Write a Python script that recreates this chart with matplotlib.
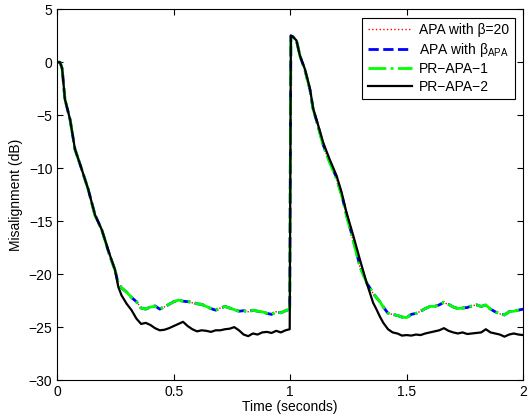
import matplotlib
matplotlib.use("Agg")
import matplotlib.pyplot as plt

plt.rcParams['font.family'] = ['Liberation Sans', 'DejaVu Sans']
plt.rcParams['mathtext.fontset'] = 'custom'
plt.rcParams['mathtext.rm'] = 'Liberation Sans'
plt.rcParams['mathtext.it'] = 'Liberation Sans:italic'

# sample times (seconds)
t_decay1 = [0.0, 0.012, 0.021, 0.033, 0.055, 0.076, 0.105, 0.133, 0.162, 0.191,
            0.226, 0.248, 0.262, 0.276, 0.298, 0.319, 0.34, 0.36, 0.38]
t_flat1 = [0.40, 0.42, 0.44, 0.46, 0.48, 0.50, 0.52, 0.54, 0.56, 0.58,
           0.60, 0.62, 0.64, 0.66, 0.68, 0.70, 0.72, 0.74, 0.76, 0.78,
           0.80, 0.82, 0.84, 0.86, 0.88, 0.90, 0.92, 0.94, 0.96, 0.98, 0.998]
t_decay2 = [1.003, 1.012, 1.027, 1.042, 1.063, 1.085, 1.099, 1.113, 1.142, 1.17,
            1.199, 1.221, 1.242, 1.27, 1.299, 1.328, 1.356, 1.37, 1.385, 1.40]
t_flat2 = [1.42, 1.44, 1.46, 1.48, 1.50, 1.52, 1.54, 1.56, 1.58, 1.60,
           1.62, 1.64, 1.66, 1.68, 1.70, 1.72, 1.74, 1.76, 1.78, 1.80,
           1.82, 1.84, 1.86, 1.88, 1.90, 1.92, 1.94, 1.96, 1.98, 2.00]
t = t_decay1 + t_flat1 + t_decay2 + t_flat2

# misalignment (dB)
pr_apa1 = [0.0, 0.0, -0.6, -3.5, -5.4, -8.2, -10.1, -12.0, -14.5, -15.8,
           -18.3, -19.6, -20.9, -21.3, -21.7, -22.2, -22.6, -23.2, -23.3,
           -23.1, -23.05, -23.3, -23.1, -22.85, -22.6, -22.45, -22.55, -22.6, -22.65,
           -22.8, -22.85, -23.05, -23.25, -23.4, -23.2, -23.05, -23.2, -23.35, -23.5,
           -23.45, -23.55, -23.4, -23.5, -23.55, -23.7, -23.8, -23.55, -23.65, -23.45, -23.3,
           2.5, 2.4, 2.05, 0.6, -0.7, -2.6, -4.5, -5.5, -7.9, -9.5,
           -11.0, -12.6, -14.5, -16.8, -19.3, -20.8, -21.8, -22.2, -22.6, -23.1,
           -23.7, -23.8, -23.9, -24.05, -24.1, -23.8, -23.7, -23.5, -23.25, -23.05,
           -23.05, -22.9, -22.65, -22.85, -23.1, -23.25, -23.2, -23.15, -23.0, -22.9,
           -23.05, -22.9, -23.3, -23.55, -23.75, -23.85, -23.55, -23.5, -23.4, -23.3]

apa_beta20 = [0.0, 0.0, -0.6, -3.5, -5.4, -8.2, -10.1, -12.0, -14.5, -15.8,
              -18.3, -19.6, -20.9, -21.3, -21.75, -22.2, -22.6, -23.2, -23.3,
              -23.15, -23.05, -23.3, -23.1, -22.85, -22.6, -22.5, -22.55, -22.6, -22.7,
              -22.8, -22.85, -23.05, -23.25, -23.4, -23.2, -23.05, -23.2, -23.35, -23.5,
              -23.45, -23.55, -23.4, -23.5, -23.55, -23.7, -23.8, -23.55, -23.65, -23.45, -23.3,
              2.5, 2.4, 2.05, 0.6, -0.7, -2.6, -4.5, -5.5, -7.9, -9.5,
              -11.0, -12.6, -14.5, -16.8, -19.3, -20.8, -21.8, -22.2, -22.6, -23.1,
              -23.7, -23.8, -23.9, -24.05, -24.1, -23.8, -23.7, -23.5, -23.25, -23.05,
              -23.05, -22.9, -22.7, -22.85, -23.1, -23.25, -23.2, -23.15, -23.0, -22.9,
              -23.05, -22.9, -23.3, -23.55, -23.75, -23.85, -23.55, -23.5, -23.4, -23.3]

apa_beta_apa = [0.0, 0.0, -0.6, -3.5, -5.4, -8.2, -10.1, -12.0, -14.4, -15.8,
                -18.3, -19.6, -20.9, -21.3, -21.7, -22.2, -22.6, -23.2, -23.3,
                -23.1, -23.0, -23.3, -23.1, -22.85, -22.6, -22.45, -22.55, -22.6, -22.65,
                -22.8, -22.85, -23.05, -23.25, -23.4, -23.2, -23.05, -23.2, -23.35, -23.5,
                -23.45, -23.55, -23.4, -23.5, -23.55, -23.7, -23.8, -23.55, -23.65, -23.45, -23.3,
                2.5, 2.4, 2.05, 0.6, -0.7, -2.6, -4.5, -5.5, -7.8, -9.4,
                -10.9, -12.5, -14.4, -16.7, -19.2, -20.8, -21.8, -22.2, -22.6, -23.1,
                -23.7, -23.8, -23.9, -24.05, -24.1, -23.8, -23.7, -23.5, -23.25, -23.05,
                -23.05, -22.9, -22.65, -22.85, -23.1, -23.25, -23.2, -23.15, -23.0, -22.9,
                -23.05, -22.9, -23.3, -23.55, -23.75, -23.85, -23.55, -23.5, -23.4, -23.3]

pr_apa2 = [0.0, 0.0, -0.6, -3.5, -5.4, -8.2, -10.1, -12.0, -14.4, -15.8,
           -18.2, -19.6, -21.2, -22.0, -22.8, -23.4, -24.2, -24.7, -24.6,
           -24.8, -25.1, -25.3, -25.25, -25.1, -24.9, -24.7, -24.5, -24.9, -25.2,
           -25.4, -25.3, -25.35, -25.45, -25.3, -25.3, -25.2, -25.15, -25.0, -25.3,
           -25.7, -25.85, -25.6, -25.7, -25.5, -25.45, -25.55, -25.35, -25.5, -25.3, -25.2,
           2.5, 2.4, 2.05, 0.6, -0.63, -2.5, -4.4, -5.4, -7.6, -9.2,
           -10.7, -12.3, -14.2, -16.3, -18.6, -20.8, -22.7, -23.3, -24.0, -24.6,
           -25.2, -25.5, -25.6, -25.8, -25.75, -25.8, -25.7, -25.75, -25.6, -25.5,
           -25.4, -25.3, -25.1, -25.35, -25.5, -25.6, -25.5, -25.65, -25.6, -25.55,
           -25.5, -25.2, -25.5, -25.6, -25.7, -25.9, -25.7, -25.6, -25.7, -25.75]

x_ticks = [0, 0.5, 1, 1.5, 2]
x_labels = ["0", "0.5", "1", "1.5", "2"]
y_ticks = [-30, -25, -20, -15, -10, -5, 0, 5]

fig = plt.figure(figsize=(5.3, 4.2), dpi=100)
ax = fig.add_axes([0.108, 0.095, 0.879, 0.883])

ax.plot(t, apa_beta20, color="r", linestyle=":", linewidth=1.0, label=r"APA with β=20")
ax.plot(t, apa_beta_apa, color="b", linestyle="--", linewidth=2.0, label=r"APA with β$_{\mathrm{APA}}$")
ax.plot(t, pr_apa1, color=(0, 1, 0), linestyle="-.", linewidth=2.0, label="PR\u2212APA\u22121")
ax.plot(t, pr_apa2, color="k", linestyle="-", linewidth=1.6, label="PR\u2212APA\u22122")

ax.set_xlim(0, 2)
ax.set_ylim(-30, 5)
ax.set_xticks(x_ticks)
ax.set_xticklabels(x_labels)
ax.set_yticks(y_ticks)
ax.tick_params(direction="in", top=True, right=True, labelsize=10, length=4, width=0.8)
for s in ax.spines.values():
    s.set_linewidth(0.8)

ax.set_xlabel("Time (seconds)", fontsize=10, labelpad=1)
ax.set_ylabel("Misalignment (dB)", fontsize=10, labelpad=4)

leg = ax.legend(loc="upper right", fontsize=10, fancybox=False, framealpha=1,
                edgecolor="k", handlelength=3.2, borderaxespad=0.6,
                labelspacing=0.25, borderpad=0.4, handletextpad=0.5)
leg.get_frame().set_linewidth(0.8)

fig.savefig("out.png", dpi=100)
